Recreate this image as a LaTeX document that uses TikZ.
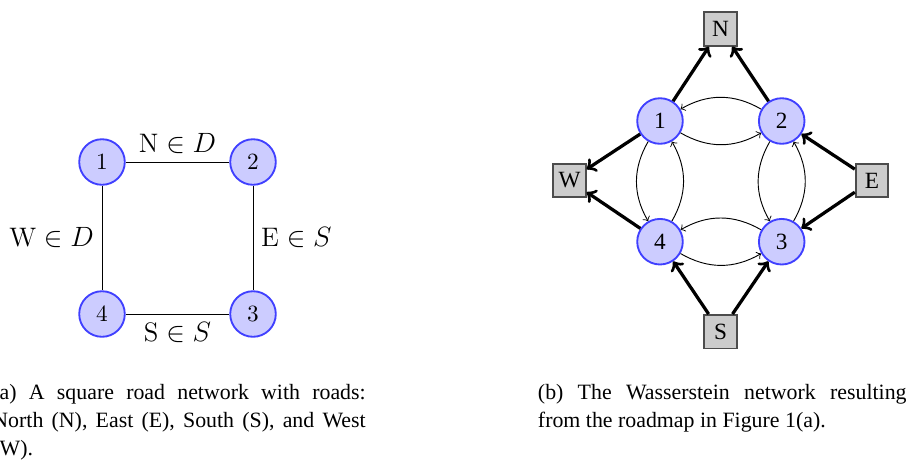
\documentclass[tikz,border=0pt]{standalone}
\usepackage{amssymb}
\usepackage{amsmath}
\usepackage{fontspec}
\newfontfamily\timesfont{Liberation Serif}
\usetikzlibrary{shapes,positioning,calc}

\begin{document}
\begin{tikzpicture}
  [x=0.43pt,y=0.43pt,
   lvgNode/.style={draw,thick,inner sep=0pt},
   cirN/.style={circle,lvgNode,draw=blue!75,fill=blue!20,minimum size=19.6pt},
   cirT/.style={cirN,font=\timesfont},
   roadN/.style={rectangle,lvgNode,draw=black!70,fill=black!20,font=\timesfont,
                 minimum width=14pt,minimum height=14.4pt,inner sep=2pt},
   labN/.style={font=\fontsize{11.5}{14}\selectfont},
   capN/.style={anchor=north west,inner sep=0pt,align=justify,
                font=\timesfont\fontsize{9.4}{12}\selectfont},
   flowE/.style={->,line width=1.4pt},
   wassE/.style={->,bend right=30},
  ]
 \useasboundingbox (0,0) rectangle (911,474);

 % (a) road network
 \node[cirN] (a1) at (102,312) {1};
 \node[cirN] (a2) at (253,312) {2};
 \node[cirN] (a3) at (253,160) {3};
 \node[cirN] (a4) at (102,160) {4};
 \draw (a1) -- node[above,labN] {$\mathrm{N}\in D$} (a2);
 \draw (a2) -- node[right,labN] {$\mathrm{E}\in S$} (a3);
 \draw (a4) -- node[below,labN] {$\mathrm{S}\in S$} (a3);
 \draw (a1) -- node[left,labN] {$\mathrm{W}\in D$} (a4);

 % (b) Wasserstein network
 \node[cirT] (b1) at (660,353) {1};
 \node[cirT] (b2) at (781.7,353) {2};
 \node[cirT] (b3) at (781.7,232.3) {3};
 \node[cirT] (b4) at (660,232.3) {4};
 \node[roadN] (bN) at (720.5,445) {N};
 \node[roadN] (bW) at (569.5,293.5) {W};
 \node[roadN] (bE) at (872,293.5) {E};
 \node[roadN] (bS) at (720.5,142.3) {S};
 \foreach \s/\t in {b1/bN,b2/bN,b1/bW,b4/bW,bE/b2,bE/b3,bS/b4,bS/b3}
   \draw[flowE] (\s) -- (\t);
 \foreach \s/\t in {b1/b2,b2/b1,b1/b4,b4/b1,b2/b3,b3/b2,b4/b3,b3/b4}
   \draw[wassE] (\s) to (\t);

 % captions
 \node[capN,text width=160.5pt] (capA) at (-8,94.5)
   {\strut(a) A square road network with roads:\linebreak
    North (N), East (E), South (S), and West\linebreak (W).};
 \node[capN,text width=158.5pt] (capB) at (537.5,94.5)
   {\strut(b) The Wasserstein network resulting\linebreak
    from the roadmap in Figure 1(a).};
\end{tikzpicture}
\end{document}
